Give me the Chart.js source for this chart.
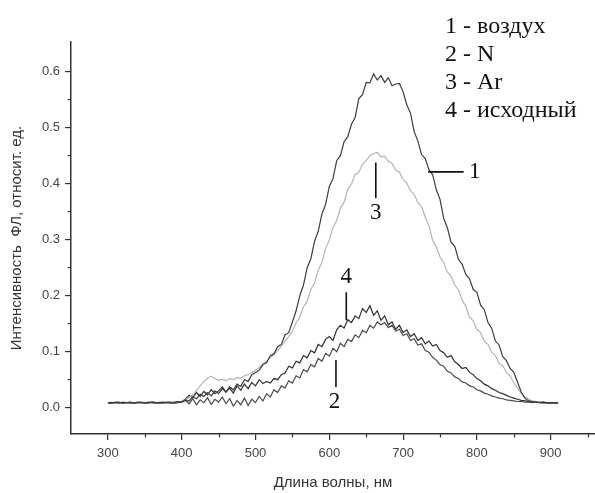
<!DOCTYPE html>
<html>
<head>
<meta charset="utf-8">
<script src="https://cdn.jsdelivr.net/npm/chart.js@4"></script>
<style>
  body { margin: 0; background: #fff; }
  canvas { display: block; }
</style>
</head>
<body>
<canvas id="flChart" width="595" height="493"></canvas>
<script>
// wavelength, nm
var wavelength = [
  300, 305, 310, 315, 320, 325, 330, 335, 340, 345,
  350, 355, 360, 365, 370, 375, 380, 385, 390, 395,
  400, 405, 410, 415, 420, 425, 430, 435, 440, 445,
  450, 455, 460, 465, 470, 475, 480, 485, 490, 495,
  500, 505, 510, 515, 520, 525, 530, 535, 540, 545,
  550, 555, 560, 565, 570, 575, 580, 585, 590, 595,
  600, 605, 610, 615, 620, 625, 630, 635, 640, 645,
  650, 655, 660, 665, 670, 675, 680, 685, 690, 695,
  700, 705, 710, 715, 720, 725, 730, 735, 740, 745,
  750, 755, 760, 765, 770, 775, 780, 785, 790, 795,
  800, 805, 810, 815, 820, 825, 830, 835, 840, 845,
  850, 855, 860, 865, 870, 875, 880, 885, 890, 895,
  900, 905, 910
];

// 1 - воздух
var air = [
  .008, .007, .009, .008, .007, .008, .009, .007, .008, .008,
  .007, .009, .008, .007, .008, .009, .008, .007, .009, .010,
  .009, .013, .011, .018, .015, .023, .019, .026, .020, .029,
  .024, .033, .027, .036, .031, .041, .037, .049, .046, .058,
  .062, .066, .076, .079, .092, .095, .108, .112, .129, .133,
  .152, .172, .199, .218, .249, .265, .296, .314, .345, .362,
  .394, .408, .440, .449, .474, .483, .505, .517, .551, .558,
  .580, .579, .595, .584, .592, .580, .588, .574, .577, .578,
  .563, .540, .525, .492, .475, .451, .444, .424, .415, .388,
  .371, .337, .320, .294, .287, .264, .255, .237, .229, .210,
  .205, .182, .174, .151, .141, .118, .111, .090, .083, .069,
  .062, .045, .027, .016, .011, .010, .009, .008, .009, .007,
  .008, .007, .008
];

// 2 - N
var nitrogen = [
  .007, .008, .008, .007, .009, .008, .007, .008, .008, .009,
  .007, .008, .009, .008, .007, .008, .008, .009, .007, .008,
  .009, .012, .006, .015, .004, .013, .008, .017, .005, .014,
  .009, .018, .006, .015, .002, .012, .004, .016, .003, .014,
  .008, .019, .011, .024, .018, .031, .026, .038, .034, .047,
  .043, .056, .052, .067, .063, .076, .072, .087, .082, .096,
  .091, .105, .099, .114, .108, .121, .117, .129, .124, .137,
  .133, .146, .141, .152, .147, .151, .142, .146, .136, .139,
  .128, .131, .119, .122, .111, .113, .101, .098, .089, .084,
  .076, .073, .064, .061, .054, .051, .045, .043, .038, .036,
  .031, .029, .025, .023, .020, .018, .016, .015, .013, .012,
  .011, .010, .010, .009, .009, .008, .009, .008, .007, .008,
  .007, .008, .007
];

// 3 - Ar
var argon = [
  .008, .009, .007, .008, .008, .007, .009, .008, .007, .008,
  .009, .008, .007, .008, .009, .008, .007, .009, .008, .009,
  .010, .013, .017, .022, .030, .038, .046, .052, .055, .051,
  .048, .050, .047, .051, .049, .053, .052, .056, .058, .062,
  .066, .071, .076, .082, .088, .094, .101, .109, .118, .126,
  .136, .151, .160, .179, .189, .210, .221, .245, .258, .284,
  .298, .321, .333, .355, .366, .389, .398, .416, .419, .434,
  .440, .449, .453, .455, .447, .448, .439, .435, .423, .420,
  .406, .400, .386, .380, .365, .358, .339, .324, .298, .286,
  .268, .258, .241, .234, .218, .209, .191, .180, .161, .154,
  .139, .133, .118, .112, .098, .092, .078, .074, .062, .056,
  .044, .034, .025, .018, .014, .011, .010, .009, .008, .008,
  .007, .008, .007
];

// 4 - исходный
var initial = [
  .008, .007, .008, .009, .007, .008, .008, .007, .009, .008,
  .008, .007, .009, .008, .008, .007, .009, .008, .007, .009,
  .010, .014, .021, .017, .026, .019, .028, .022, .031, .024,
  .029, .036, .027, .034, .025, .038, .030, .041, .033, .044,
  .038, .049, .042, .046, .043, .051, .049, .058, .061, .073,
  .070, .082, .079, .092, .088, .101, .097, .112, .108, .121,
  .126, .119, .138, .146, .141, .156, .151, .163, .158, .176,
  .169, .181, .164, .172, .155, .163, .147, .152, .139, .146,
  .133, .138, .126, .131, .119, .124, .113, .118, .109, .112,
  .101, .097, .089, .092, .081, .076, .069, .071, .062, .058,
  .051, .047, .041, .038, .033, .030, .026, .024, .021, .018,
  .016, .014, .012, .011, .010, .009, .010, .008, .009, .008,
  .007, .008, .007
];

var xTicks = [300, 400, 500, 600, 700, 800, 900];
var xMinorTicks = [350, 450, 550, 650, 750, 850, 950];
var yTicks = [0, 0.1, 0.2, 0.3, 0.4, 0.5, 0.6];
var yMinorTicks = [0.05, 0.15, 0.25, 0.35, 0.45, 0.55];

var legendLines = ['1 - воздух', '2 - N', '3 - Ar', '4 - исходный'];

// curve labels: number, position of the text, leader line (x1,y1,x2,y2) in data units
var curveLabels = [
  { text: '1', x: 797, y: 0.42, line: [734, 0.42, 782, 0.42] },
  { text: '3', x: 663, y: 0.346, line: [663, 0.437, 663, 0.373] },
  { text: '4', x: 623, y: 0.232, line: [623, 0.205, 623, 0.155] },
  { text: '2', x: 607, y: 0.009, line: [609, 0.084, 609, 0.036] }
];

function toPoints(ys) {
  return ys.map(function(v, i) { return { x: wavelength[i], y: v }; });
}

var extras = {
  id: 'extras',
  afterDraw: function(chart) {
    var ctx = chart.ctx;
    var xs = chart.scales.x, ys = chart.scales.y;
    var area = chart.chartArea;
    ctx.save();
    ctx.strokeStyle = '#333';
    ctx.lineWidth = 1.2;
    // minor ticks
    xMinorTicks.forEach(function(v) {
      var px = Math.round(xs.getPixelForValue(v)) + 0.5;
      ctx.beginPath();
      ctx.moveTo(px, area.bottom);
      ctx.lineTo(px, area.bottom + 3.5);
      ctx.stroke();
    });
    yMinorTicks.forEach(function(v) {
      var py = Math.round(ys.getPixelForValue(v)) + 0.5;
      ctx.beginPath();
      ctx.moveTo(area.left, py);
      ctx.lineTo(area.left - 3.5, py);
      ctx.stroke();
    });
    // curve numbers with leader lines
    ctx.fillStyle = '#111';
    ctx.strokeStyle = '#111';
    ctx.lineWidth = 1.6;
    ctx.font = '23px "Liberation Serif", "Times New Roman", serif';
    ctx.textAlign = 'center';
    ctx.textBaseline = 'middle';
    curveLabels.forEach(function(l) {
      ctx.beginPath();
      ctx.moveTo(xs.getPixelForValue(l.line[0]), ys.getPixelForValue(l.line[1]));
      ctx.lineTo(xs.getPixelForValue(l.line[2]), ys.getPixelForValue(l.line[3]));
      ctx.stroke();
      ctx.fillText(l.text, xs.getPixelForValue(l.x), ys.getPixelForValue(l.y));
    });
    // legend text
    ctx.font = '24px "Liberation Serif", "Times New Roman", serif';
    ctx.textAlign = 'left';
    ctx.textBaseline = 'alphabetic';
    legendLines.forEach(function(t, i) {
      ctx.fillText(t, 445, 33 + i * 28);
    });
    ctx.restore();
  }
};

var ctx = document.getElementById('flChart').getContext('2d');
var flChart = new Chart(ctx, {
  type: 'line',
  data: {
    datasets: [
      { label: '1 - воздух', data: toPoints(air), borderColor: '#3c3c3c' },
      { label: '2 - N', data: toPoints(nitrogen), borderColor: '#4a4a4a' },
      { label: '3 - Ar', data: toPoints(argon), borderColor: '#b4b4b4' },
      { label: '4 - исходный', data: toPoints(initial), borderColor: '#303030' }
    ]
  },
  options: {
    responsive: false,
    animation: false,
    devicePixelRatio: 1,
    layout: { padding: { top: 42, right: 0, left: 0, bottom: 0 } },
    elements: {
      point: { radius: 0 },
      line: { borderWidth: 1.2, tension: 0, fill: false }
    },
    plugins: {
      legend: { display: false },
      tooltip: { enabled: false }
    },
    scales: {
      x: {
        type: 'linear',
        min: 250,
        max: 960,
        afterBuildTicks: function(s) { s.ticks = xTicks.map(function(v) { return { value: v }; }); },
        afterFit: function(s) { s.height = 59; },
        grid: { drawOnChartArea: false, tickLength: 6, color: '#333', lineWidth: 1.2 },
        border: { color: '#333', width: 1.5 },
        ticks: {
          color: '#444',
          font: { family: '"Liberation Sans", Arial, sans-serif', size: 13 },
          padding: 6,
          maxRotation: 0,
          autoSkip: false
        },
        title: {
          display: true,
          text: 'Длина волны, нм',
          color: '#333',
          font: { family: '"Liberation Sans", Arial, sans-serif', size: 15 },
          padding: { top: 0, bottom: 1 }
        }
      },
      y: {
        min: -0.048,
        max: 0.652,
        afterBuildTicks: function(s) { s.ticks = yTicks.map(function(v) { return { value: v }; }); },
        afterFit: function(s) { s.width = 71; },
        grid: { drawOnChartArea: false, tickLength: 6, color: '#333', lineWidth: 1.2 },
        border: { color: '#333', width: 1.5 },
        ticks: {
          color: '#444',
          font: { family: '"Liberation Sans", Arial, sans-serif', size: 13 },
          padding: 5,
          callback: function(v) { return v.toFixed(1); }
        },
        title: {
          display: true,
          text: 'Интенсивность  ФЛ, относит. ед.',
          color: '#333',
          font: { family: '"Liberation Sans", Arial, sans-serif', size: 15 },
          padding: { top: 8, bottom: 0 }
        }
      }
    }
  },
  plugins: [extras]
});
</script>
</body>
</html>
